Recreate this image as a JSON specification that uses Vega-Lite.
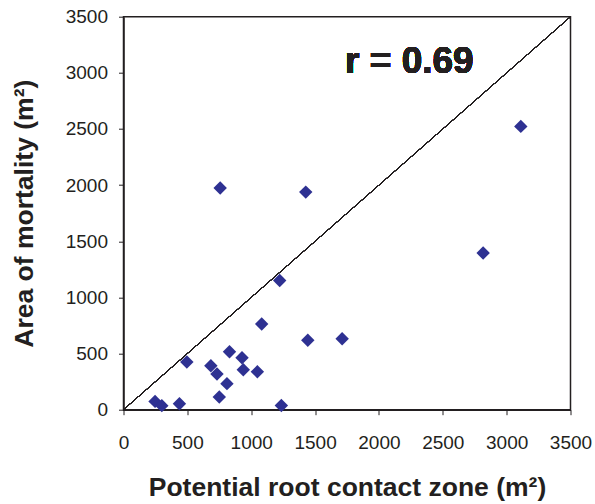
{
  "$schema": "https://vega.github.io/schema/vega-lite/v6.json",
  "width": 447,
  "height": 393,
  "autosize": {"type": "none"},
  "padding": {"left": 123.5, "top": 16.7, "right": 24.5, "bottom": 94.3},
  "background": "white",
  "config": {
    "font": "Liberation Sans",
    "view": {"stroke": "#231F20", "strokeWidth": 1.5},
    "axis": {
      "grid": false,
      "domainColor": "#231F20",
      "domainWidth": 1.5,
      "tickColor": "#231F20",
      "tickSize": 5,
      "tickWidth": 1,
      "labelFont": "Liberation Sans",
      "labelFontSize": 19,
      "labelColor": "#231F20",
      "titleFont": "Liberation Sans",
      "titleFontSize": 26.5,
      "titleFontWeight": "bold",
      "titleColor": "#231F20"
    }
  },
  "data": {
    "values": [
      {"zone": 247, "mortality": 74},
      {"zone": 300, "mortality": 36},
      {"zone": 438, "mortality": 53},
      {"zone": 496, "mortality": 425},
      {"zone": 684, "mortality": 392},
      {"zone": 732, "mortality": 318},
      {"zone": 750, "mortality": 113},
      {"zone": 810, "mortality": 232},
      {"zone": 830, "mortality": 516},
      {"zone": 928, "mortality": 463},
      {"zone": 938, "mortality": 356},
      {"zone": 1048, "mortality": 338},
      {"zone": 1082, "mortality": 763},
      {"zone": 1236, "mortality": 38},
      {"zone": 1443, "mortality": 619},
      {"zone": 1223, "mortality": 1151},
      {"zone": 1712, "mortality": 632},
      {"zone": 757, "mortality": 1974},
      {"zone": 1427, "mortality": 1938},
      {"zone": 2816, "mortality": 1395},
      {"zone": 3111, "mortality": 2523}
    ]
  },
  "layer": [
    {
      "mark": {"type": "rule", "color": "#231F20", "strokeWidth": 1},
      "encoding": {
        "x": {"datum": 0, "type": "quantitative", "scale": {"domain": [0, 3500]}},
        "y": {"datum": 0, "type": "quantitative", "scale": {"domain": [0, 3500]}},
        "x2": {"datum": 3500},
        "y2": {"datum": 3500}
      }
    },
    {
      "mark": {"type": "point", "shape": "diamond", "filled": true, "size": 180, "color": "#2E3192", "opacity": 1},
      "encoding": {
        "x": {
          "field": "zone", "type": "quantitative",
          "scale": {"domain": [0, 3500], "nice": false, "zero": true},
          "axis": {"values": [0, 500, 1000, 1500, 2000, 2500, 3000, 3500], "format": "d", "labelPadding": 19, "title": "Potential root contact zone (m²)", "titlePadding": 22, "labelFlush": false}
        },
        "y": {
          "field": "mortality", "type": "quantitative",
          "scale": {"domain": [0, 3500], "nice": false, "zero": true},
          "axis": {"values": [0, 500, 1000, 1500, 2000, 2500, 3000, 3500], "format": "d", "labelPadding": 11, "title": "Area of mortality (m²)", "titlePadding": 27, "labelFlush": false}
        }
      }
    },
    {
      "mark": {"type": "text", "text": "r = 0.69", "align": "left", "baseline": "alphabetic", "fontSize": 37, "fontWeight": "bold", "font": "Liberation Sans", "color": "#231F20"},
      "encoding": {
        "x": {"datum": 1735, "type": "quantitative"},
        "y": {"datum": 3000, "type": "quantitative"}
      }
    }
  ]
}
